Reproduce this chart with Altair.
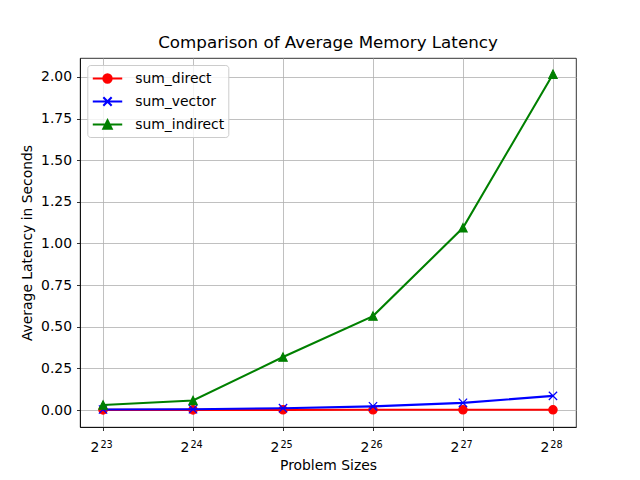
import altair as alt
import pandas as pd

# ---- data ----
exponents = [23, 24, 25, 26, 27, 28]
base_labels = ["2", "2", "2", "2", "2", "2"]
exponent_labels = ["23", "24", "25", "26", "27", "28"]
sum_direct = [0.0008, 0.0009, 0.0010, 0.0011, 0.0012, 0.0013]
sum_vector = [0.003, 0.005, 0.011, 0.022, 0.043, 0.085]
sum_indirect = [0.030, 0.057, 0.318, 0.564, 1.094, 2.017]
series_names = ["sum_direct", "sum_vector", "sum_indirect"]
series_colors = ["#ff0000", "#0000ff", "#008000"]
series_fills = ["#ff0000", "transparent", "#008000"]
y_ticks = [0.0, 0.25, 0.5, 0.75, 1.0, 1.25, 1.5, 1.75, 2.0]

rows = []
for name, vals in zip(series_names, [sum_direct, sum_vector, sum_indirect]):
    for e, v in zip(exponents, vals):
        rows.append({"exp": e, "latency": v, "series": name})
df = pd.DataFrame(rows)

tick_df = pd.DataFrame({"exp": exponents, "base": base_labels, "power": exponent_labels})

# legend-only rows (placed outside the x domain and clipped away)
legend_df = pd.DataFrame({"exp": [0, 0, 0], "latency": [1, 1, 1], "series": series_names})

FONT = "DejaVu Sans"
W, H = 496, 369
LW = 2.08

x_scale = alt.Scale(domain=[22.744, 28.256], nice=False, zero=False)
y_scale = alt.Scale(domain=[-0.102, 2.114], nice=False, zero=False)

x_enc = alt.X(
    "exp:Q",
    scale=x_scale,
    axis=alt.Axis(values=exponents, labels=False, title="Problem Sizes", titlePadding=28),
)
y_enc = alt.Y(
    "latency:Q",
    scale=y_scale,
    axis=alt.Axis(values=y_ticks, format=".2f", title="Average Latency in Seconds", titlePadding=6),
)

# data marker shapes (custom paths, unit = sqrt(size)/2 px)
marker_paths = [
    "M1.04,0A1.04,1.04 0 1,1 -1.04,0A1.04,1.04 0 1,1 1.04,0Z",
    "M-1.04,-1.04L1.04,1.04M-1.04,1.04L1.04,-1.04",
    "M0,-1.04L1.04,1.04L-1.04,1.04Z",
]
# legend shapes: line segment + marker
legend_paths = [
    "M-1.84,0H1.84M0.52,0A0.52,0.52 0 1,1 -0.52,0A0.52,0.52 0 1,1 0.52,0Z",
    "M-1.84,0H1.84M-0.52,-0.52L0.52,0.52M-0.52,0.52L0.52,-0.52",
    "M-1.84,0H1.84M0,-0.52L0.52,0.52L-0.52,0.52Z",
]

layers = []
for name in series_names:
    base = alt.Chart(df).transform_filter(alt.datum.series == name)
    layers.append(
        base.mark_line(strokeWidth=LW).encode(
            x=x_enc,
            y=y_enc,
            color=alt.Color("series:N", scale=alt.Scale(domain=series_names, range=series_colors), legend=None),
        )
    )
    layers.append(
        base.mark_point(size=64, strokeWidth=1.2, opacity=1).encode(
            x=x_enc,
            y=y_enc,
            fill=alt.Fill("series:N", scale=alt.Scale(domain=series_names, range=series_fills), legend=None),
            stroke=alt.Stroke("series:N", scale=alt.Scale(domain=series_names, range=series_colors), legend=None),
            shape=alt.Shape("series:N", scale=alt.Scale(domain=series_names, range=marker_paths), legend=None),
        )
    )

# x tick labels: base "2" and superscript exponent
base_text = alt.Chart(tick_df).mark_text(
    font=FONT, fontSize=13.9, align="right", baseline="alphabetic", dx=-3.7, color="#000000"
).encode(
    x=alt.X("exp:Q", scale=x_scale),
    y=alt.value(H + 25.3),
    text="base:N",
)
exp_text = alt.Chart(tick_df).mark_text(
    font=FONT, fontSize=9.7, align="left", baseline="alphabetic", dx=-2.6, color="#000000"
).encode(
    x=alt.X("exp:Q", scale=x_scale),
    y=alt.value(H + 21.3),
    text="power:N",
)

legend_cfg = alt.Legend(
    title=None,
    orient="none",
    legendX=7.3,
    legendY=7,
    padding=4,
    symbolSize=256,
    symbolOffset=6.7,
    labelOffset=18.3,
    rowPadding=5,
    symbolStrokeWidth=LW,
    symbolOpacity=1,
    labelFontSize=13.9,
    labelFont=FONT,
    labelColor="#000000",
    strokeColor="#cccccc",
    fillColor="rgba(255,255,255,0.8)",
    cornerRadius=3,
)

legend_layer = alt.Chart(legend_df).mark_point(clip=True, size=256, strokeWidth=LW, opacity=1).encode(
    x=x_enc,
    y=y_enc,
    fill=alt.Fill("series:N", scale=alt.Scale(domain=series_names, range=series_fills), legend=legend_cfg),
    stroke=alt.Stroke("series:N", scale=alt.Scale(domain=series_names, range=series_colors), legend=legend_cfg),
    shape=alt.Shape("series:N", scale=alt.Scale(domain=series_names, range=legend_paths), legend=legend_cfg),
)

chart = (
    alt.layer(*layers, base_text, exp_text, legend_layer)
    .resolve_scale(color="independent", fill="independent", stroke="independent", shape="independent")
    .properties(
        width=W,
        height=H,
        title=alt.TitleParams(
            "Comparison of Average Memory Latency",
            font=FONT,
            fontSize=16.7,
            fontWeight="normal",
            color="#000000",
            offset=6,
        ),
        autosize=alt.AutoSizeParams(type="none"),
        padding={"left": 72, "top": 50, "right": 56, "bottom": 45},
    )
    .configure_view(stroke="#000000", strokeWidth=0.8)
    .configure_axis(
        labelFont=FONT,
        titleFont=FONT,
        labelFontSize=13.9,
        titleFontSize=13.9,
        titleFontWeight="normal",
        labelColor="#000000",
        titleColor="#000000",
        grid=True,
        gridColor="#b0b0b0",
        gridWidth=0.8,
        domainColor="#000000",
        domainWidth=0.8,
        tickColor="#000000",
        tickWidth=0.8,
        tickSize=3.5,
        labelPadding=5,
    )
)

chart.save("out.html", embed_options={"renderer": "svg", "actions": False})
